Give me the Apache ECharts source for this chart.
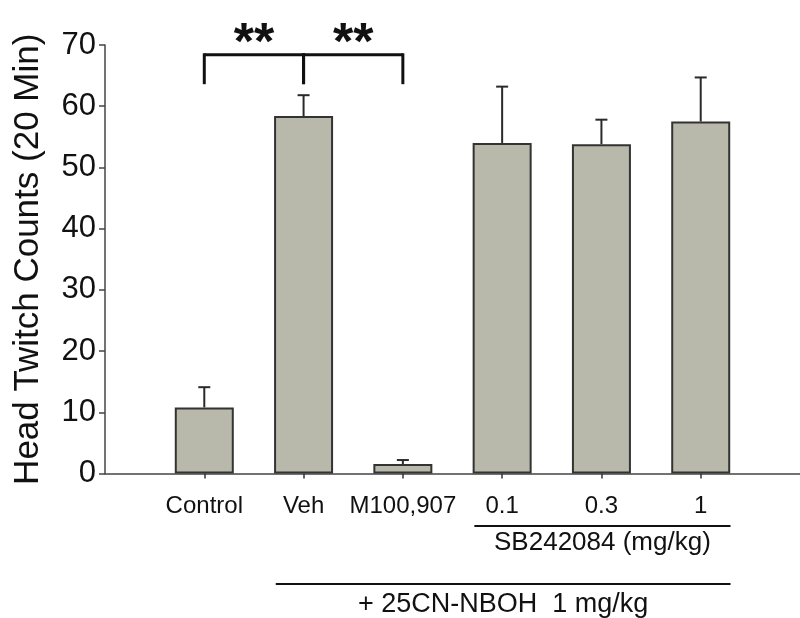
<!DOCTYPE html>
<html>
<head>
<meta charset="utf-8">
<script src="https://cdn.jsdelivr.net/npm/echarts@6/dist/echarts.min.js"></script>
<style>html,body{margin:0;padding:0;background:#fff}#c{width:800px;height:618px}</style>
</head>
<body>
<div id="c"></div>
<script>
// ---- data ----
const categories = ['Control', 'Veh', 'M100,907', '0.1', '0.3', '1'];
const means = [10.8, 58.4, 1.55, 54.0, 53.8, 57.5];
const sems = [3.3, 3.4, 0.65, 9.2, 4.0, 7.2];
const yTicks = [0, 10, 20, 30, 40, 50, 60, 70];
const yTitle = 'Head Twitch Counts (20 Min)';
// significance brackets between category indices (1-based)
const sigPairs = [[1, 2], [2, 3]];
const sigText = '**';
const sigTop = 68.4, sigLeg = 63.6;
// group annotations: first & last category index covered
const groupSB = { first: 4, last: 6, text: 'SB242084 (mg/kg)' };
const groupAll = { first: 2, last: 6, text: '+ 25CN-NBOH  1 mg/kg' };

const FONT = 'Liberation Sans, Arial, sans-serif';
const xs = categories.map((_, i) => i + 1);

const chart = echarts.init(document.getElementById('c'), null, { renderer: 'canvas' });

const barData = xs.map((x, i) => [x, means[i]]);
const errData = xs.map((x, i) => [x, means[i], sems[i]]);

const option = {
  animation: false,
  backgroundColor: '#fff',
  grid: { left: 105, right: 0, top: 45, height: 428.5, containLabel: false },
  xAxis: {
    type: 'value', min: 0, max: 7, interval: 1,
    splitLine: { show: false },
    axisLine: { show: true, lineStyle: { color: '#444', width: 1.5 } },
    axisTick: { show: true, customValues: xs, length: 5, lineStyle: { color: '#333', width: 1.5 } },
    axisLabel: {
      customValues: xs, margin: 21,
      formatter: v => categories[Math.round(v) - 1] || '',
      fontFamily: FONT, fontSize: 24, color: '#111'
    }
  },
  yAxis: {
    type: 'value', min: yTicks[0], max: yTicks[yTicks.length - 1], interval: 10,
    name: yTitle, nameLocation: 'middle', nameGap: 59,
    nameTextStyle: { fontFamily: FONT, fontSize: 35, color: '#111' },
    splitLine: { show: false },
    axisLine: { show: true, lineStyle: { color: '#444', width: 1.5 } },
    axisTick: { show: true, inside: false, length: 6, lineStyle: { color: '#444', width: 1.5 } },
    axisLabel: { margin: 9, fontFamily: FONT, fontSize: 31, color: '#111' }
  },
  series: [
    {
      type: 'bar', data: barData, barWidth: 59,
      itemStyle: { color: '#b8b8ab', borderColor: '#333', borderWidth: 2 },
      z: 2
    },
    {
      type: 'custom', data: errData, z: 3,
      renderItem: (params, api) => {
        const x = api.value(0), m = api.value(1), e = api.value(2);
        const p0 = api.coord([x, m]);
        const p1 = api.coord([x, m + e]);
        const cap = 6;
        const st = { stroke: '#2a2a2a', lineWidth: 2 };
        return {
          type: 'group', children: [
            { type: 'line', shape: { x1: p0[0], y1: p0[1], x2: p1[0], y2: p1[1] }, style: st },
            { type: 'line', shape: { x1: p1[0] - cap, y1: p1[1], x2: p1[0] + cap, y2: p1[1] }, style: st }
          ]
        };
      }
    },
    {
      type: 'custom', data: sigPairs, z: 4, clip: false,
      renderItem: (params, api) => {
        const a = api.value(0), b = api.value(1);
        const pa = api.coord([a, sigTop]), pb = api.coord([b, sigTop]);
        const la = api.coord([a, sigLeg]);
        const st = { stroke: '#111', lineWidth: 3 };
        const mid = api.coord([(a + b) / 2, sigTop]);
        return {
          type: 'group', children: [
            { type: 'line', shape: { x1: pa[0], y1: pa[1], x2: pb[0], y2: pb[1] }, style: st },
            { type: 'line', shape: { x1: pa[0], y1: pa[1] - 1.5, x2: pa[0], y2: la[1] }, style: st },
            { type: 'line', shape: { x1: pb[0], y1: pb[1] - 1.5, x2: pb[0], y2: la[1] }, style: st },
            { type: 'text', x: mid[0], y: mid[1] - 10, style: {
                text: sigText, fill: '#111', font: 'bold 52px ' + FONT,
                textAlign: 'center', textVerticalAlign: 'middle' } }
          ]
        };
      }
    },
    {
      type: 'custom', data: [[groupSB.first, groupSB.last, 0], [groupAll.first, groupAll.last, 1]],
      z: 4, clip: false,
      renderItem: (params, api) => {
        const f = api.value(0), l = api.value(1), k = api.value(2);
        const g = k === 0 ? groupSB : groupAll;
        const base = api.coord([0, 0]);
        const x1 = api.coord([f - 0.28, 0])[0], x2 = api.coord([l + 0.3, 0])[0];
        const lineY = base[1] + (k === 0 ? 52.5 : 110.5);
        const textY = base[1] + (k === 0 ? 69.5 : 131);
        const fs = k === 0 ? 26 : 27;
        return {
          type: 'group', children: [
            { type: 'line', shape: { x1: x1, y1: lineY, x2: x2, y2: lineY }, style: { stroke: '#111', lineWidth: 2 } },
            { type: 'text', x: (x1 + x2) / 2, y: textY, style: {
                text: g.text, fill: '#111', font: fs + 'px ' + FONT,
                textAlign: 'center', textVerticalAlign: 'middle' } }
          ]
        };
      }
    }
  ]
};
chart.setOption(option);
</script>
</body>
</html>
